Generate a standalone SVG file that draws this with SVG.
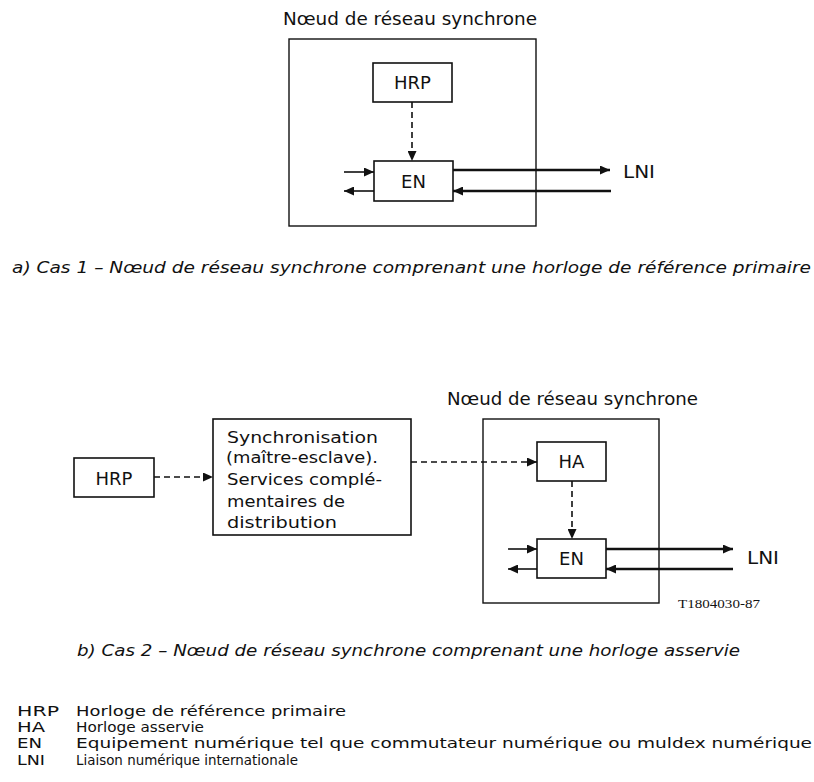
<svg xmlns="http://www.w3.org/2000/svg" width="814" height="782" viewBox="0 0 814 782">
<style>
text { font-family: "DejaVu Sans", "Liberation Sans", Arial, sans-serif; fill: #111; }
.box { fill: none; stroke: #111; stroke-width: 1.6; }
.frame { fill: none; stroke: #111; stroke-width: 1.4; }
.lbl { font-size: 18px; text-anchor: middle; }
.ttl { font-size: 17px; }
.cap { font-size: 16px; font-style: italic; }
.leg { font-size: 14px; }
.bt { font-size: 16px; }
.ln { fill: none; stroke: #111; stroke-width: 1.6; marker-end: url(#ah); }
.lnt { fill: none; stroke: #111; stroke-width: 2.6; marker-end: url(#ah); }
.dash { fill: none; stroke: #111; stroke-width: 1.6; stroke-dasharray: 6 4; marker-end: url(#ah); }
.ref { font-family: "Liberation Serif", "Times New Roman", serif; font-size: 13px; }
</style>
<defs>
<marker id="ah" markerUnits="userSpaceOnUse" markerWidth="10" markerHeight="9" refX="10" refY="4.5" orient="auto">
<path d="M0,0 L10,4.5 L0,9 z" fill="#111"/>
</marker>
</defs>

<g id="case1">
<g id="node1">
<text class="ttl" x="283" y="25" textLength="254" lengthAdjust="spacingAndGlyphs">Nœud de réseau synchrone</text>
<rect class="frame" x="289" y="39" width="247" height="187"/>
</g>
<g id="hrp1"><rect class="box" x="373" y="63" width="79" height="39"/><text class="lbl" x="412.5" y="89">HRP</text></g>
<g id="en1"><rect class="box" x="374" y="161" width="79" height="40"/><text class="lbl" x="413.5" y="188">EN</text></g>
<g id="lni1"><text class="ttl" x="623" y="178" textLength="32" lengthAdjust="spacingAndGlyphs">LNI</text></g>
</g>

<g id="case2">
<g id="hrp2"><rect class="box" x="74" y="458" width="80" height="39"/><text class="lbl" x="114" y="485">HRP</text></g>
<g id="sync">
<rect class="box" x="213" y="419" width="198" height="116"/>
<text class="bt" x="227" y="443" textLength="151" lengthAdjust="spacingAndGlyphs">Synchronisation</text>
<text class="bt" x="226" y="463" textLength="152" lengthAdjust="spacingAndGlyphs">(maître-esclave).</text>
<text class="bt" x="227" y="485" textLength="155" lengthAdjust="spacingAndGlyphs">Services complé-</text>
<text class="bt" x="227" y="507" textLength="118" lengthAdjust="spacingAndGlyphs">mentaires de</text>
<text class="bt" x="227" y="528" textLength="110" lengthAdjust="spacingAndGlyphs">distribution</text>
</g>
<g id="node2">
<text class="ttl" x="447" y="405" textLength="251" lengthAdjust="spacingAndGlyphs">Nœud de réseau synchrone</text>
<rect class="frame" x="483" y="419" width="176" height="184"/>
</g>
<g id="ha"><rect class="box" x="537" y="442" width="69" height="39"/><text class="lbl" x="571.5" y="468">HA</text></g>
<g id="en2"><rect class="box" x="537" y="539" width="69" height="39"/><text class="lbl" x="571.5" y="565">EN</text></g>
<g id="lni2"><text class="ttl" x="747" y="564" textLength="32" lengthAdjust="spacingAndGlyphs">LNI</text></g>
<text class="ref" x="678" y="608" textLength="82" lengthAdjust="spacingAndGlyphs">T1804030-87</text>
</g>

<g id="connectors">
<path class="dash" d="M412,102 V161"/>
<path class="ln" d="M344,172 H374"/>
<path class="ln" d="M374,191 H344"/>
<path class="lnt" d="M453,170 H610"/>
<path class="lnt" d="M611,191 H453"/>

<path class="dash" d="M154,477 H213"/>
<path class="dash" d="M411,462 H537"/>
<path class="dash" d="M572,481 V539"/>
<path class="ln" d="M508,549 H537"/>
<path class="ln" d="M537,569 H508"/>
<path class="lnt" d="M606,549 H733"/>
<path class="lnt" d="M733,569 H606"/>
</g>

<g id="captions">
<text class="cap" x="12" y="273" textLength="799" lengthAdjust="spacingAndGlyphs">a) Cas 1 – Nœud de réseau synchrone comprenant une horloge de référence primaire</text>
<text class="cap" x="77" y="656" textLength="663" lengthAdjust="spacingAndGlyphs">b) Cas 2 – Nœud de réseau synchrone comprenant une horloge asservie</text>
</g>

<g id="legend">
<text class="leg" x="17" y="716" textLength="42" lengthAdjust="spacingAndGlyphs">HRP</text><text class="leg" x="76" y="716" textLength="270" lengthAdjust="spacingAndGlyphs">Horloge de référence primaire</text>
<text class="leg" x="17" y="732" textLength="28" lengthAdjust="spacingAndGlyphs">HA</text><text class="leg" x="76" y="732" textLength="128" lengthAdjust="spacingAndGlyphs">Horloge asservie</text>
<text class="leg" x="17" y="748" textLength="25" lengthAdjust="spacingAndGlyphs">EN</text><text class="leg" x="76" y="748" textLength="736" lengthAdjust="spacingAndGlyphs">Equipement numérique tel que commutateur numérique ou muldex numérique</text>
<text class="leg" x="17" y="765" textLength="28" lengthAdjust="spacingAndGlyphs">LNI</text><text class="leg" x="76" y="765" textLength="222" lengthAdjust="spacingAndGlyphs">Liaison numérique internationale</text>
</g>
</svg>
